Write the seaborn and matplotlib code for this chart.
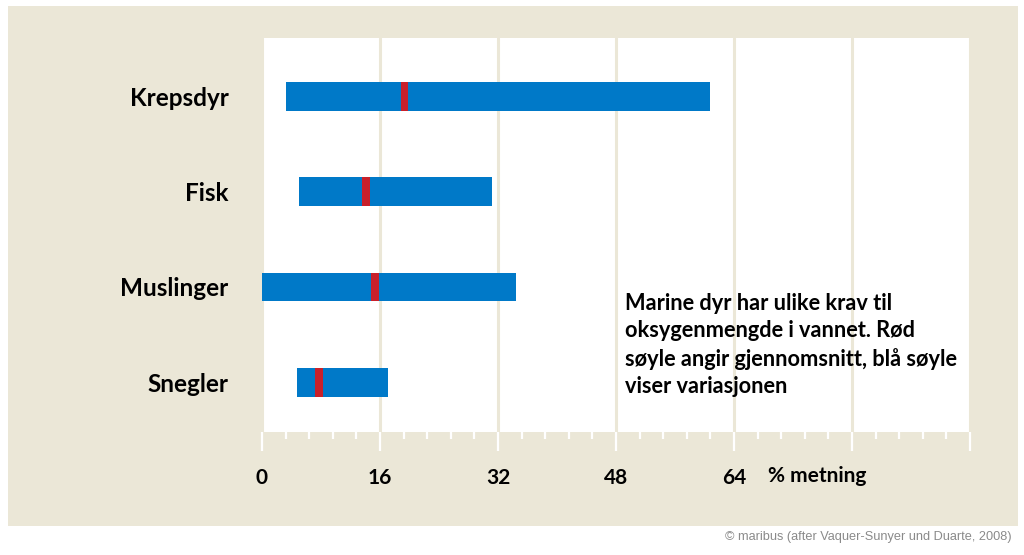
import numpy as np
import pandas as pd
import seaborn as sns
import matplotlib.pyplot as plt
from matplotlib.patches import Rectangle
from matplotlib.ticker import MultipleLocator

# ---- data ----
categories = ["Krepsdyr", "Fisk", "Muslinger", "Snegler"]
range_min = [3.3, 5.0, 0.0, 4.8]
range_max = [60.7, 31.2, 34.5, 17.1]
mean_val = [19.3, 14.1, 15.3, 7.75]
tick_values = [0, 16, 32, 48, 64, 80, 96]
tick_labels = ["0", "16", "32", "48", "64", "", ""]
axis_unit = "% metning"
note = ("Marine dyr har ulike krav til\n"
        "oksygenmengde i vannet. Rød\n"
        "søyle angir gjennomsnitt, blå søyle\n"
        "viser variasjonen")
credit = "\u00a9 maribus (after Vaquer-Sunyer und Duarte, 2008)"

BEIGE = "#ebe7d7"
BLUE = "#0079c8"
RED = "#c8202a"

sns.set_theme(style="white")
plt.rcParams['font.family'] = ['Lato', 'DejaVu Sans']

W, H = 1024, 555
fig = plt.figure(figsize=(W / 100, H / 100), dpi=100)
fig.patch.set_facecolor("white")
fig.add_artist(Rectangle((8 / W, 1 - 526 / H), (1018 - 8) / W, (526 - 6) / H,
                         transform=fig.transFigure, facecolor=BEIGE,
                         edgecolor="none", zorder=0))

ax = fig.add_axes([262 / W, 1 - 432 / H, (970 - 262) / W, (432 - 38) / H])
ax.set_facecolor("white")

df = pd.DataFrame({"cat": categories,
                   "span": np.subtract(range_max, range_min)})
sns.barplot(data=df, x="span", y="cat", color=BLUE, saturation=1,
            width=0.3, ax=ax, zorder=2, linewidth=0, edgecolor="none")
for patch, lo in zip(ax.patches, range_min):
    patch.set_x(lo)

pos = np.arange(len(categories))
ax.barh(pos, width=1.0, left=np.array(mean_val) - 0.5, height=0.3,
        color=RED, zorder=3, linewidth=0, edgecolor="none")

ax.set_xlim(0, 96)
ax.set_ylim(3.52, -0.61)
ax.set_xticks(tick_values)
ax.set_xticklabels(tick_labels)
ax.xaxis.set_minor_locator(MultipleLocator(3.2))
ax.grid(axis="x", which="major", color=BEIGE, lw=2.2, zorder=1)
ax.set_axisbelow(True)
for s in ax.spines.values():
    s.set_visible(False)

ax.tick_params(axis="x", which="major", direction="out", length=14, width=1.6,
               color="white", pad=12, labelsize=15, bottom=True)
ax.tick_params(axis="x", which="minor", direction="out", length=5, width=1.6,
               color="white", bottom=True)
for lab in ax.get_xticklabels():
    lab.set_fontweight("bold")
    lab.set_color("black")

ax.tick_params(axis="y", length=0, pad=24, labelsize=17.5)
for lab in ax.get_yticklabels():
    lab.set_fontweight("bold")
    lab.set_color("black")
ax.set_xlabel("")
ax.set_ylabel("")

fig.text(768 / W, 1 - 476 / H, axis_unit, ha="left", va="center",
         fontsize=15, fontweight="bold", color="black")

fig.text(625 / W, 1 - 293 / H, note, ha="left", va="top", fontsize=15.7,
         fontweight="bold", color="black", linespacing=1.36, zorder=5)

fig.text(1012 / W, 1 - 537 / H, credit, ha="right", va="center",
         fontsize=9.2, color="#8a8a8a", family=["Liberation Sans", "DejaVu Sans"])

fig.savefig("out.png", dpi=100)
